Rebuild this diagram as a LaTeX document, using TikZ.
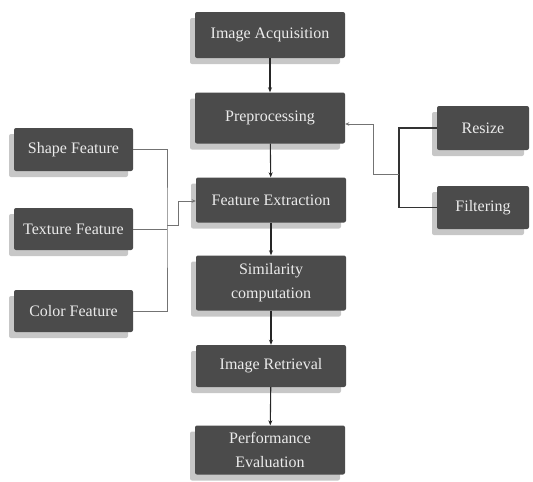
\documentclass[tikz,border=0pt]{standalone}
\usepackage{fontspec}
\setmainfont{Liberation Serif}
\usetikzlibrary{arrows.meta,shadows}

\tikzset{
  stage/.style={draw=none,fill=boxgray,text=white!92!black,rounded corners=2pt,
    minimum width=150pt,minimum height=46pt,align=center,inner sep=2pt,
    font=\fontsize{16}{24}\selectfont,
    drop shadow={shadow xshift=-5pt,shadow yshift=-6pt,fill=black,opacity=0.22}},
  side/.style={stage,minimum width=119pt,minimum height=43pt},
  flow/.style={draw=black!85,line width=1.1pt,-{Stealth[length=5pt,width=4pt]}},
  link/.style={draw=black!55,line width=0.6pt},
  tool/.style={draw=black!80,line width=1.3pt}
}
\definecolor{boxgray}{HTML}{4B4B4B}

\begin{document}
\begin{tikzpicture}[x=1pt,y=-1pt]
\useasboundingbox (0,0) rectangle (533,482);
% main pipeline
\node[stage] (acq) at (270,35) {Image Acquisition};
\node[stage,minimum height=51pt] (pre) at (270,118) {Preprocessing};
\node[stage,minimum height=45pt] (feat) at (271,200) {Feature Extraction};
\node[stage,minimum height=55pt] (sim) at (271,283) {Similarity\\computation};
\node[stage,minimum height=42pt] (ret) at (271,366) {Image Retrieval};
\node[stage,minimum height=49pt] (perf) at (270,450) {Performance\\Evaluation};
% feature boxes
\node[side] (shape) at (73.5,149.5) {Shape Feature};
\node[side,minimum height=42pt] (texture) at (73.5,229) {Texture Feature};
\node[side,minimum height=42pt] (color) at (73.5,311) {Color Feature};
% preprocessing steps
\node[side,minimum width=92pt,minimum height=44pt] (resize) at (483,128) {Resize};
\node[side,minimum width=92pt] (filter) at (483,207.5) {Filtering};

\draw[flow] (acq) -- (pre);
\draw[flow] (pre) -- (feat);
\draw[flow] (feat) -- (sim);
\draw[flow] (sim) -- (ret);
\draw[flow] (ret) -- (perf);

\coordinate (lbus) at (167,225);
\draw[link] (shape.east) -| (lbus) |- (color.east);
\draw[link] (texture.east) -- (texture.east -| lbus);
\draw[link,-{Stealth[length=4pt,width=3.5pt]}] (lbus) -- ++(11,0) |- ([yshift=-1pt]feat.west);

\coordinate (rbus) at (399,174);
\draw[tool] (resize.west) -| (rbus) |- (filter.west);
\draw[link,-{Stealth[length=4pt,width=3.5pt]}] (rbus) -- ++(-26,0) |- ([yshift=-6pt]pre.east);
\end{tikzpicture}
\end{document}
